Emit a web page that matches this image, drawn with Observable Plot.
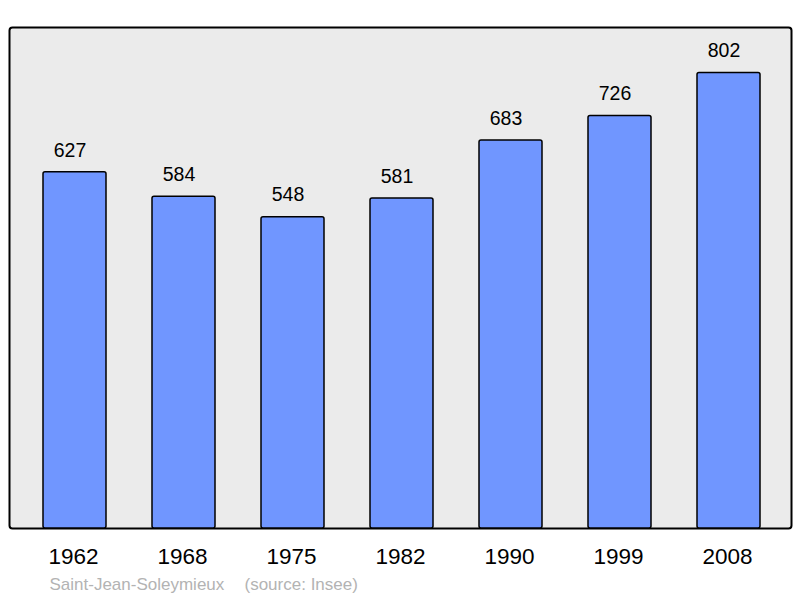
<!DOCTYPE html>
<html><head><meta charset="utf-8">
<script src="https://cdn.jsdelivr.net/npm/d3@7"></script>
<script src="https://cdn.jsdelivr.net/npm/@observablehq/plot@0.6"></script>
<style>body{margin:0;background:#fff;font-family:"Liberation Sans",Arial,sans-serif}</style>
</head><body><div id="chart"></div>
<script>
const years = ["1962","1968","1975","1982","1990","1999","2008"];
const population = [627,584,548,581,683,726,802];
const commune = "Saint-Jean-Soleymieux";
const source = "(source: Insee)";
const data = years.map((y,i)=>({year:y, pop:population[i]}));
const chart = Plot.plot({
  width:800, height:598,
  marginTop:27, marginBottom:70, marginLeft:9, marginRight:9,
  style:{fontFamily:"Liberation Sans, Arial, sans-serif", background:"#fff"},
  x:{domain:years, range:[41.5,760.5], paddingInner:0.424, paddingOuter:0, axis:null},
  y:{domain:[0,882], axis:null},
  marks:[
    Plot.frame({fill:"#ebebeb", stroke:"#000", strokeWidth:2, rx:3}),
    Plot.barY(data,{x:"year", y:"pop", fill:"#7096ff", stroke:"#000", strokeWidth:1.5, rx:2}),
    Plot.text(data,{x:"year", y:"pop", text:d=>String(d.pop), dx:-5, dy:-22, fontSize:19.5, fill:"#000"}),
    Plot.text(data,{x:"year", y:0, text:"year", dx:-1.5, dy:28, fontSize:22.5, fill:"#000"}),
    Plot.text([commune],{frameAnchor:"bottom-left", text:d=>d, dx:40, dy:61, fontSize:17, fill:"#b3b3b3", textAnchor:"start"}),
    Plot.text([source],{frameAnchor:"bottom-left", text:d=>d, dx:235, dy:61, fontSize:17, fill:"#b3b3b3", textAnchor:"start"})
  ]
});
document.getElementById("chart").append(chart);
</script></body></html>
